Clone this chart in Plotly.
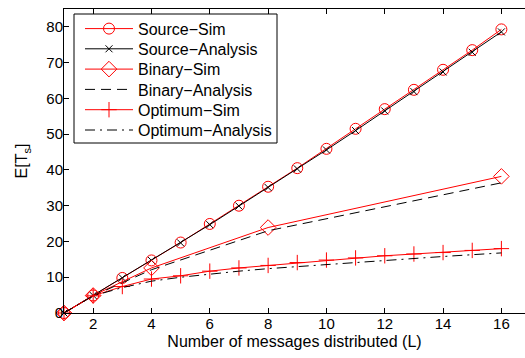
import plotly.graph_objects as go

# Number of messages distributed
L_all = list(range(1, 17))
L_binary = [1, 2, 4, 8, 16]

# Expected completion time E[T_s]
source_sim = [0, 4.9, 9.8, 14.7, 19.7, 24.9, 30.0, 35.3, 40.5, 45.9, 51.5, 57.0, 62.4, 68.0, 73.5, 79.3]
source_analysis = [0, 4.9, 9.8, 14.7, 19.6, 24.7, 29.9, 35.1, 40.3, 45.6, 51.0, 56.5, 61.9, 67.4, 72.9, 78.6]
binary_sim = [0, 4.9, 12.6, 23.9, 38.2]
binary_analysis = [0, 4.8, 12.1, 23.0, 36.4]
optimum_sim = [0, 4.8, 7.4, 9.5, 10.4, 11.7, 12.6, 13.3, 14.1, 14.8, 15.4, 16.0, 16.5, 16.9, 17.5, 18.0]
optimum_analysis = [0, 4.8, 7.1, 8.9, 10.0, 10.9, 11.7, 12.4, 13.0, 13.6, 14.2, 14.8, 15.3, 15.8, 16.3, 16.8]

x_ticks = [2, 4, 6, 8, 10, 12, 14, 16]
y_ticks = [0, 10, 20, 30, 40, 50, 60, 70, 80]

RED = "rgb(255,0,0)"
BLACK = "rgb(0,0,0)"
FONT = "Liberation Sans, Arial, sans-serif"

# figure geometry (px)
W, H = 525, 358
ML, MR, MT, MB = 64, 0, 9, 45
PW, PH = W - ML - MR, H - MT - MB


def px_x(p):
    return (p - ML) / PW


def px_y(p):
    return 1 - (p - MT) / PH


# one legend per entry so rows sit on a tight, even pitch inside a shared box
legend_rows = [28.7, 48.9, 69.2, 89.5, 109.8, 130.1]
legend_names = ["legend", "legend2", "legend3", "legend4", "legend5", "legend6"]

fig = go.Figure()

fig.add_trace(go.Scatter(
    x=L_all, y=source_sim, name="Source\u2212Sim", mode="lines+markers",
    line=dict(color=RED, width=1),
    marker=dict(symbol="circle-open", size=11, color=RED, line=dict(width=1, color=RED)),
    cliponaxis=False, legend=legend_names[0]))
fig.add_trace(go.Scatter(
    x=L_all, y=source_analysis, name="Source\u2212Analysis", mode="lines+markers",
    line=dict(color=BLACK, width=1),
    marker=dict(symbol="x-thin-open", size=7, color=BLACK, line=dict(width=1, color=BLACK)),
    cliponaxis=False, legend=legend_names[1]))
fig.add_trace(go.Scatter(
    x=L_binary, y=binary_sim, name="Binary\u2212Sim", mode="lines+markers",
    line=dict(color=RED, width=1),
    marker=dict(symbol="diamond-open", size=12, color=RED, line=dict(width=1, color=RED)),
    cliponaxis=False, legend=legend_names[2]))
fig.add_trace(go.Scatter(
    x=L_binary, y=binary_analysis, name="Binary\u2212Analysis", mode="lines",
    line=dict(color=BLACK, width=1, dash="10px,6px"),
    cliponaxis=False, legend=legend_names[3]))
fig.add_trace(go.Scatter(
    x=L_all, y=optimum_sim, name="Optimum\u2212Sim", mode="lines+markers",
    line=dict(color=RED, width=1),
    marker=dict(symbol="cross-thin-open", size=11, color=RED, line=dict(width=1, color=RED)),
    cliponaxis=False, legend=legend_names[4]))
fig.add_trace(go.Scatter(
    x=L_all, y=optimum_analysis, name="Optimum\u2212Analysis", mode="lines",
    line=dict(color=BLACK, width=1, dash="10px,5px,2px,5px"),
    cliponaxis=False, legend=legend_names[5]))

legend_layout = {}
for name, row in zip(legend_names, legend_rows):
    legend_layout[name] = dict(
        x=px_x(80), y=px_y(row), xanchor="left", yanchor="middle",
        bgcolor="rgba(0,0,0,0)", borderwidth=0,
        itemwidth=48,
        font=dict(family=FONT, size=16, color=BLACK),
    )

fig.update_layout(
    width=W, height=H,
    margin=dict(l=ML, r=MR, t=MT, b=MB),
    paper_bgcolor="white", plot_bgcolor="white",
    font=dict(family=FONT, size=16, color=BLACK),
    showlegend=True,
    **legend_layout,
    shapes=[dict(
        type="rect", xref="paper", yref="paper",
        x0=px_x(74), x1=px_x(277), y0=px_y(143), y1=px_y(14),
        line=dict(color=BLACK, width=1), fillcolor="white", layer="above",
    )],
    xaxis=dict(
        range=[1, 16.81], tickvals=x_ticks, ticktext=[str(v) for v in x_ticks],
        ticks="inside", ticklen=5, tickcolor=BLACK, tickwidth=1,
        showline=True, linecolor=BLACK, linewidth=1, mirror="ticks",
        showgrid=False, zeroline=False, ticklabelstandoff=-3,
        tickfont=dict(family=FONT, size=15, color=BLACK),
        title=dict(text="Number of messages distributed (L)", standoff=4,
                   font=dict(family=FONT, size=16, color=BLACK)),
    ),
    yaxis=dict(
        range=[0, 85], tickvals=y_ticks, ticktext=[str(v) for v in y_ticks],
        ticks="inside", ticklen=5, tickcolor=BLACK, tickwidth=1,
        showline=True, linecolor=BLACK, linewidth=1, mirror=False,
        showgrid=False, zeroline=False, ticklabelstandoff=-3,
        tickfont=dict(family=FONT, size=15, color=BLACK),
        title=dict(text="E[T<sub>s</sub>]", standoff=14,
                   font=dict(family=FONT, size=16, color=BLACK)),
    ),
)

fig.write_html("out.html")
